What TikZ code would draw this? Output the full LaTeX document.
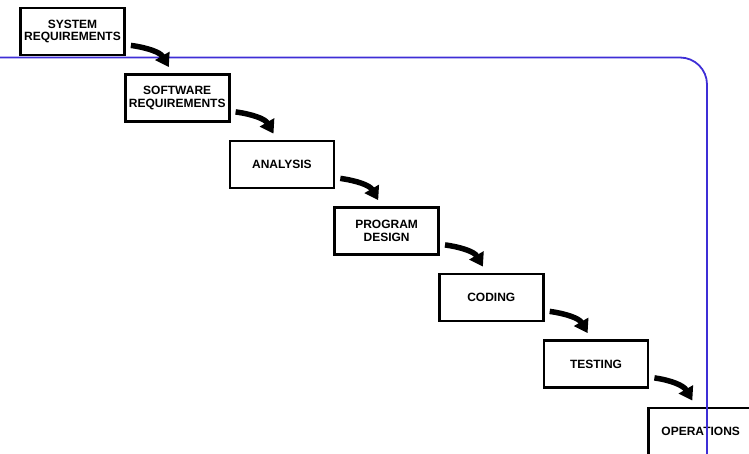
\documentclass[tikz,border=0pt]{standalone}
\usepackage{fontspec}
\setmainfont{Liberation Sans}
\usetikzlibrary{arrows.meta}
\definecolor{feedback}{RGB}{62,46,214}
\tikzset{
  stage/.style={draw=black, fill=white, line width=2.8pt, minimum width=104pt,
    minimum height=47pt, inner sep=0pt, align=center,
    font=\fontsize{12}{12.6}\selectfont\bfseries},
  flow/.style={line width=5.5pt, -{Triangle[length=13pt,width=16pt]}},
  loopline/.style={draw=feedback, line width=1.8pt, rounded corners=27pt}
}
\begin{document}
\begin{tikzpicture}[x=1pt,y=-1pt]
  \path[use as bounding box] (0,0) rectangle (749,454);
  \clip (0,0) rectangle (749,454);
  % the cascade of stages
  \node[stage] (s1) at (72.5,31.5)  {SYSTEM\\REQUIREMENTS};
  \node[stage] (s2) at (177.2,98)   {SOFTWARE\\REQUIREMENTS};
  \node[stage] (s3) at (281.9,164.5) {ANALYSIS};
  \node[stage] (s4) at (386.6,231)  {PROGRAM\\DESIGN};
  \node[stage] (s5) at (491.3,297.5) {CODING};
  \node[stage] (s6) at (596,364)    {TESTING};
  \node[stage] (s7) at (700.7,431.5) {OPERATIONS};
  % feedback line running across the top and down the right side
  \coordinate (fbstart) at (0,57.5);
  \coordinate (fbcorner) at (707,57.5);
  \coordinate (fbend) at (707,470);
  \draw[loopline] (fbstart) -- (fbcorner) -- (fbend);
  % curved arrows from each stage to the next
  \foreach \a/\b in {s1/s2,s2/s3,s3/s4,s4/s5,s5/s6,s6/s7}{
    \draw[flow] ([shift={(5pt,11pt)}]\a.south east) to[out=-8,in=120]
      ([shift={(45pt,6pt)}]\b.north west);
  }
\end{tikzpicture}
\end{document}
